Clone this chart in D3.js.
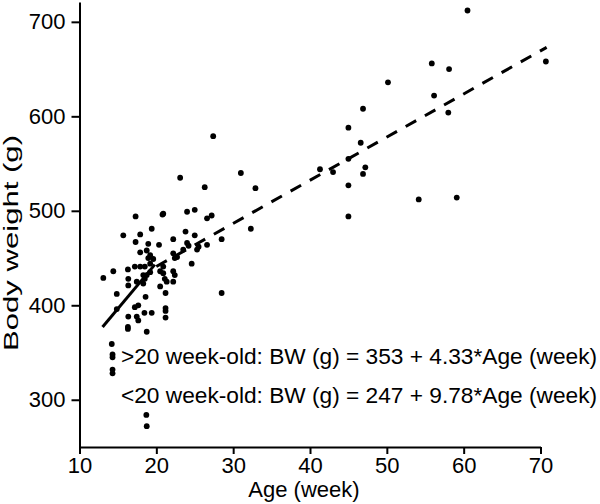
<!DOCTYPE html>
<html>
<head>
<meta charset="utf-8">
<script src="https://cdn.jsdelivr.net/npm/d3@7/dist/d3.min.js"></script>
<style>
  html, body { margin: 0; padding: 0; background: #fff; }
  svg { display: block; }
  text { font-family: "Liberation Sans", Arial, Helvetica, sans-serif; fill: #000; }
</style>
</head>
<body>
<svg id="chart" width="600" height="504"></svg>
<script>
// ---- data ----
const ages = [
  23.1, 26.3, 20.9, 24.0, 25.0, 26.6, 27.2, 23.8, 25.0, 28.5,
  22.2, 20.35, 24.0, 24.2, 26.6, 25.5, 25.3, 23.5, 22.2, 22.7,
  22.4, 24.6, 20.9, 21.1, 21.35, 22.2, 22.4, 22.2, 20.5, 21.2,
  28.5, 21.2, 21.2, 21.2,
  17.3, 20.8, 15.7, 17.9, 19.4, 17.3, 18.95, 17.9, 18.75, 19.2,
  19.6, 18.95, 19.2, 17.2, 17.9, 18.5, 14.4, 16.3, 13.1, 16.35,
  20.5, 20.9, 18.3, 18.5, 18.75, 19.2, 18.3, 16.35, 17.45,
  14.85, 18.6, 17.65, 17.2, 14.85, 16.35, 17.45, 17.65, 18.45, 19.4,
  16.3, 16.3, 18.75,
  14.2, 14.3, 14.3, 14.3, 14.3, 18.7, 18.75,
  27.4, 31.0, 32.9, 32.3, 41.3, 43.0, 45.0, 45.0, 45.0, 45.0,
  46.6, 46.9, 47.2, 46.9, 50.15, 54.15, 55.85, 56.15, 58.1, 58.0,
  59.1, 60.5, 70.7
];
const weights = [
  535, 525, 497, 499, 501, 492, 495, 478, 474, 470,
  470, 464, 466, 463, 464, 462, 459, 459, 455, 451,
  450, 444, 434, 428, 425, 436, 432, 425, 420, 413,
  413, 397, 394, 387,
  494, 496, 474, 475, 481, 467, 465, 456, 458, 453,
  449, 450, 444, 441, 441, 441, 436, 438, 429, 428,
  436, 441, 432, 428, 432, 435, 423, 421, 425,
  412, 409, 400, 398, 396, 388, 388, 384, 392, 392,
  377, 375, 372,
  359, 348, 345, 332, 328, 284, 272,
  579, 540, 524, 481, 544, 541, 588, 555, 527, 494,
  572, 608, 546, 539, 636, 512, 656, 622, 650, 604,
  514, 712, 658
];
// regression lines (end points)
const youngLineAge = [13.0, 19.8];
const youngLineBW = [377, 443];
const oldLineAge = [20.0, 70.8];
const oldLineBW = [441, 673];

const xTicks = [10, 20, 30, 40, 50, 60, 70];
const yTicks = [300, 400, 500, 600, 700];
const xTitle = "Age (week)";
const yTitle = "Body weight (g)";
const notes = [
  ">20 week-old: BW (g) = 353 + 4.33*Age (week)",
  "<20 week-old: BW (g) = 247 + 9.78*Age (week)"
];

// ---- drawing ----
const svg = d3.select("#chart");
const x = d3.scaleLinear().domain([10, 70]).range([79.5, 540.5]);
const y = d3.scaleLinear().domain([250, 721]).range([447, 2]);

const xAxis = svg.append("g")
  .attr("transform", `translate(0,${y(250)})`)
  .call(d3.axisBottom(x).tickValues(xTicks).tickFormat(d3.format("d"))
        .tickSizeInner(7).tickSizeOuter(0).tickPadding(3));
const yAxis = svg.append("g")
  .attr("transform", `translate(${x(10)},0)`)
  .call(d3.axisLeft(y).tickValues(yTicks).tickFormat(d3.format("d"))
        .tickSizeInner(8).tickSizeOuter(0).tickPadding(6));

[xAxis, yAxis].forEach(g => {
  g.selectAll("path.domain").attr("stroke", "#000").attr("stroke-width", 2);
  g.selectAll(".tick line").attr("stroke", "#000").attr("stroke-width", 2);
  g.selectAll(".tick text").attr("font-size", 22)
    .style("font-family", '"Liberation Sans", Arial, sans-serif').attr("fill", "#000");
});

svg.append("text")
  .attr("x", 304).attr("y", 497)
  .attr("text-anchor", "middle").attr("font-size", 22)
  .text(xTitle);

svg.append("text")
  .attr("transform", `translate(18,243) rotate(-90)`)
  .attr("text-anchor", "middle").attr("font-size", 21)
  .attr("textLength", 216).attr("lengthAdjust", "spacingAndGlyphs")
  .text(yTitle);

const pts = ages.map((a, i) => ({age: a, bw: weights[i]}));
svg.append("g").selectAll("circle").data(pts).join("circle")
  .attr("cx", d => x(d.age)).attr("cy", d => y(d.bw))
  .attr("r", 2.9).attr("fill", "#000");

const line = d3.line().x(d => x(d[0])).y(d => y(d[1]));
svg.append("path")
  .datum(d3.zip(youngLineAge, youngLineBW))
  .attr("d", line).attr("fill", "none")
  .attr("stroke", "#000").attr("stroke-width", 3);
svg.append("path")
  .datum(d3.zip(oldLineAge, oldLineBW))
  .attr("d", line).attr("fill", "none")
  .attr("stroke", "#000").attr("stroke-width", 3)
  .attr("stroke-dasharray", "12,10");

svg.append("g").selectAll("text").data(notes).join("text")
  .attr("x", 121).attr("y", (d, i) => 364 + i * 39)
  .attr("font-size", 22.7)
  .text(d => d);
</script>
</body>
</html>
